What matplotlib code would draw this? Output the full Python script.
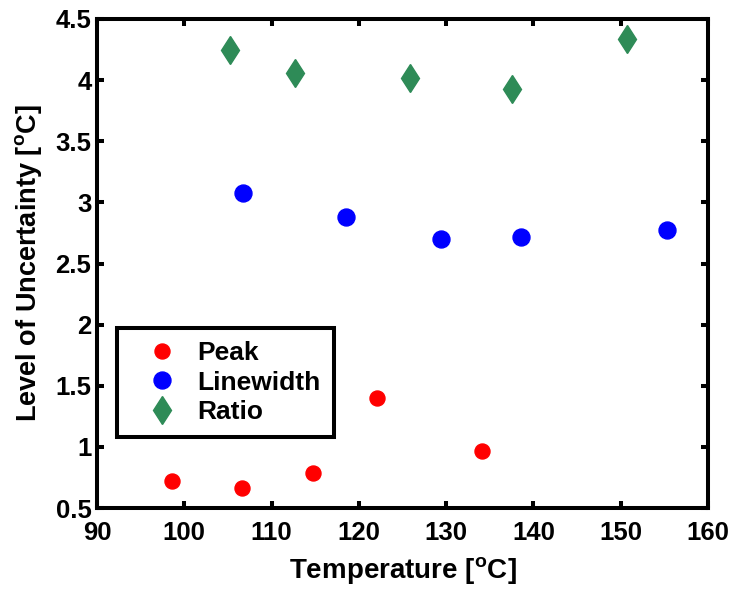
import numpy as np
import matplotlib.pyplot as plt

plt.rcParams['font.family'] = ['Liberation Sans', 'DejaVu Sans']
plt.rcParams['font.weight'] = 'bold'
plt.rcParams['mathtext.fontset'] = 'custom'
plt.rcParams['mathtext.rm'] = 'Liberation Sans:bold'
plt.rcParams['mathtext.bf'] = 'Liberation Sans:bold'

# data
peak_t = [98.6, 106.6, 114.7, 122.1, 134.1]
peak_u = [0.72, 0.66, 0.79, 1.40, 0.97]

lw_t = [106.7, 118.5, 129.4, 138.6, 155.3]
lw_u = [3.08, 2.88, 2.70, 2.72, 2.77]

ratio_t = [105.2, 112.7, 125.9, 137.5, 150.7]
ratio_u = [4.25, 4.06, 4.02, 3.93, 4.34]

xticks = [90, 100, 110, 120, 130, 140, 150, 160]
yticks = [0.5, 1, 1.5, 2, 2.5, 3, 3.5, 4, 4.5]
yticklabels = ['0.5', '1', '1.5', '2', '2.5', '3', '3.5', '4', '4.5']

fig = plt.figure(figsize=(7.33, 5.89), dpi=100)
# axes box: x 97..708 px, y 19..508 px
ax = fig.add_axes([97 / 733, 81 / 589, 611 / 733, 489 / 589])

ax.plot(peak_t, peak_u, 'o', color='red', markersize=10.8, label='Peak')
ax.plot(lw_t, lw_u, 'o', color='blue', markersize=12.2, label='Linewidth')
ax.plot(ratio_t, ratio_u, 'd', color='#2e8b57', markersize=14.5, label='Ratio')

ax.set_xlim(90, 160)
ax.set_ylim(0.5, 4.5)
ax.set_xticks(xticks)
ax.set_yticks(yticks)
ax.set_yticklabels(yticklabels)
ax.tick_params(direction='in', length=5, width=2.9, labelsize=18.5,
               top=True, right=True)
ax.tick_params(axis='x', pad=9)
ax.tick_params(axis='y', pad=4)
for s in ax.spines.values():
    s.set_linewidth(2.9)

ax.set_xlabel(r'Temperature [$^{\mathrm{o}}$C]', fontsize=20, fontweight='bold', labelpad=8)
ax.set_ylabel(r'Level of Uncertainty [$^{\mathrm{o}}$C]', fontsize=19.5, fontweight='bold', labelpad=8)

leg = ax.legend(loc='lower left', bbox_to_anchor=(0.033, 0.145), fontsize=19,
                fancybox=False, framealpha=1, edgecolor='black',
                handlelength=2.4, handletextpad=0.15, borderpad=0.5,
                labelspacing=0.2, borderaxespad=0)
leg.get_frame().set_linewidth(2.9)

fig.savefig('out.png', dpi=100)
